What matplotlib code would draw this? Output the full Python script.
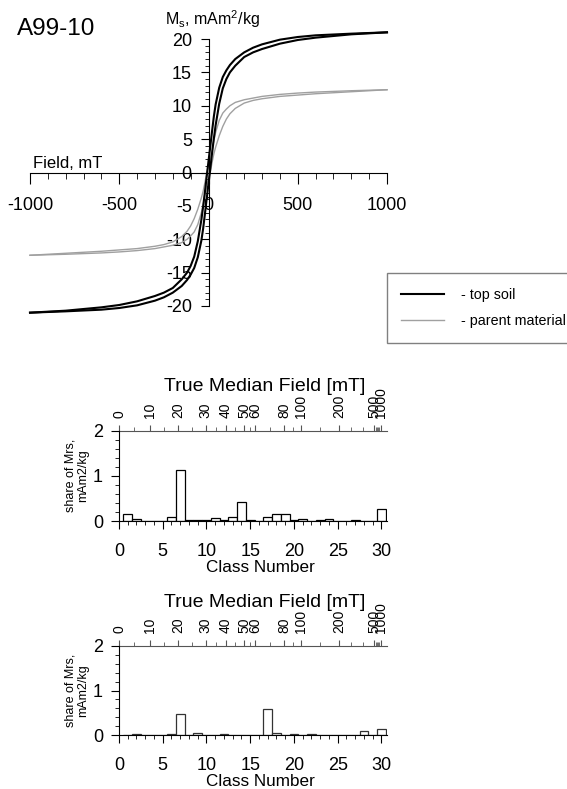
import matplotlib
matplotlib.use('Agg')
import matplotlib.pyplot as plt
import numpy as np
from matplotlib.ticker import MultipleLocator

plt.rcParams['font.family'] = ['Liberation Sans', 'DejaVu Sans']
plt.rcParams['mathtext.fontset'] = 'custom'
plt.rcParams['mathtext.rm'] = 'Liberation Sans'
plt.rcParams['mathtext.it'] = 'Liberation Sans:italic'
plt.rcParams['axes.unicode_minus'] = False

# hysteresis loops, field in mT, Ms in mAm2/kg
field = [-1000, -800, -600, -500, -400, -300, -250, -200, -150, -120, -100, -80, -60, -40, -30, -20, -10,
         0, 10, 20, 30, 40, 60, 80, 100, 120, 150, 200, 250, 300, 400, 500, 600, 800, 1000]
top_desc = [-21.0, -20.7, -20.2, -19.85, -19.3, -18.5, -18.0, -17.3, -16.0, -15.0, -14.0, -12.6, -10.3, -7.1, -5.1, -2.9, -0.6,
            1.7, 3.9, 6.2, 8.4, 10.2, 12.7, 14.3, 15.3, 16.1, 17.0, 18.0, 18.7, 19.2, 19.9, 20.3, 20.55, 20.8, 21.0]
top_asc = [-21.0, -20.8, -20.55, -20.3, -19.9, -19.2, -18.7, -18.0, -17.0, -16.1, -15.3, -14.3, -12.7, -10.2, -8.4, -6.2, -3.9,
           -1.7, 0.6, 2.9, 5.1, 7.1, 10.3, 12.6, 14.0, 15.0, 16.0, 17.3, 18.0, 18.5, 19.3, 19.85, 20.2, 20.7, 21.0]
par_desc = [-12.4, -12.1, -11.8, -11.6, -11.4, -11.05, -10.8, -10.4, -9.6, -8.8, -8.0, -6.9, -5.5, -3.8, -2.8, -1.5, 0.0,
            1.0, 2.0, 3.3, 4.8, 6.0, 7.8, 8.9, 9.5, 10.0, 10.5, 10.9, 11.15, 11.4, 11.7, 11.9, 12.05, 12.25, 12.4]
par_asc = [-12.4, -12.25, -12.05, -11.9, -11.7, -11.4, -11.15, -10.9, -10.5, -10.0, -9.5, -8.9, -7.8, -6.0, -4.8, -3.3, -2.0,
           -1.0, 0.0, 1.5, 2.8, 3.8, 5.5, 6.9, 8.0, 8.8, 9.6, 10.4, 10.8, 11.05, 11.4, 11.6, 11.8, 12.1, 12.4]

# IRM component shares per class
classes = np.arange(1, 31)
share1 = [0.15, 0.04, 0, 0, 0, 0.09, 1.13, 0.02, 0.02, 0.02, 0.06, 0.02, 0.09, 0.41, 0.02,
          0, 0.08, 0.15, 0.15, 0.02, 0.05, 0.01, 0.02, 0.05, 0.01, 0, 0.02, 0, 0, 0.27]
share2 = [0, 0.02, 0.01, 0, 0, 0.02, 0.47, 0, 0.04, 0, 0.01, 0.02, 0.01, 0, 0,
          0.01, 0.58, 0.04, 0, 0.02, 0.01, 0.02, 0, 0, 0.01, 0.01, 0.01, 0.09, 0, 0.13]

# true median field scale on top (mT -> class position)
tmf_labels = ['0', '10', '20', '30', '40', '50', '60', '80', '100', '200', '500', '1000']
tmf_fields = [0, 10, 20, 30, 40, 50, 60, 80, 100, 200, 500, 1000]
tmf_pos = [0, 3.5, 6.8, 9.9, 12.2, 14.3, 15.6, 18.9, 20.8, 25.2, 29.2, 29.9]
tmf_minor = [5, 15, 25, 35, 45, 55, 70, 90, 150, 300, 400, 600, 700, 800, 900]

W, H = 567, 789
fig = plt.figure(figsize=(W / 100, H / 100), dpi=100)

# ---- hysteresis plot
ax = fig.add_axes([30 / W, 1 - 306 / H, 357 / W, 267 / H])
l2, = ax.plot(field, par_desc, color='#a0a0a0', lw=1.0, clip_on=False)
ax.plot(field, par_asc, color='#a0a0a0', lw=1.0, clip_on=False)
l1, = ax.plot(field, top_desc, color='black', lw=1.5, clip_on=False)
ax.plot(field, top_asc, color='black', lw=1.5, clip_on=False)
ax.set_xlim(-1000, 1000)
ax.set_ylim(-20, 20)
ax.spines['left'].set_position(('data', 0))
ax.spines['bottom'].set_position(('data', 0))
ax.spines['top'].set_visible(False)
ax.spines['right'].set_visible(False)
ax.set_xticks([-1000, -500, 0, 500, 1000])
ax.xaxis.set_minor_locator(MultipleLocator(100))
ax.set_yticks(range(-20, 21, 5))
ax.yaxis.set_minor_locator(MultipleLocator(1))
ax.tick_params(axis='x', which='major', direction='out', length=8, labelsize=13, pad=10)
ax.tick_params(axis='x', which='minor', direction='out', length=4)
ax.tick_params(axis='y', which='major', direction='out', length=6, labelsize=13, pad=6)
ax.tick_params(axis='y', which='minor', direction='out', length=3)
ax.patch.set_alpha(0)

fig.text(17 / W, 1 - 35 / H, 'A99-10', fontsize=17.5, va='baseline')
fig.text(165 / W, 1 - 25 / H, r'M$_\mathrm{s}$, mAm$^\mathrm{2}$/kg', fontsize=11.5, va='baseline')
fig.text(33 / W, 1 - 168 / H, 'Field, mT', fontsize=12, va='baseline')

leg = ax.legend([l1, l2], ['- top soil', '- parent material'], loc='upper left',
                bbox_to_anchor=(386.7 / W, 1 - 273.3 / H), bbox_transform=fig.transFigure,
                borderaxespad=0, fontsize=10.3, handlelength=3.0, handletextpad=1.2,
                borderpad=1.0, labelspacing=0.9, fancybox=False, framealpha=1)
leg.get_frame().set_edgecolor('#808080')
leg.get_frame().set_linewidth(1.0)


# ---- bar charts
def bar_panel(top_px, bottom_px, values, edgecol):
    axb = fig.add_axes([119 / W, 1 - bottom_px / H, 267.7 / W, (bottom_px - top_px) / H])
    axb.bar(classes, values, width=1.0, facecolor='white', edgecolor=edgecol, linewidth=0.9)
    axb.set_xlim(0, 30.6)
    axb.set_ylim(0, 2)
    axb.spines['right'].set_visible(False)
    axb.spines['top'].set_visible(False)
    axb.set_xticks(range(0, 31, 5))
    axb.xaxis.set_minor_locator(MultipleLocator(1))
    axb.set_yticks([0, 1, 2])
    axb.yaxis.set_minor_locator(MultipleLocator(0.2))
    axb.tick_params(axis='x', which='major', direction='out', length=6, labelsize=13, pad=9.5)
    axb.tick_params(axis='x', which='minor', direction='out', length=3)
    axb.tick_params(axis='y', which='major', direction='out', length=6, labelsize=13, pad=5.5)
    axb.tick_params(axis='y', which='minor', direction='out', length=3)
    axb.set_xlabel('Class Number', fontsize=12.3, labelpad=0, x=0.527)
    axb.set_ylabel('share of Mrs,\nmAm2/kg', fontsize=9, labelpad=3, linespacing=1.0)

    sec = axb.secondary_xaxis('top')
    sec.set_xticks(tmf_pos, labels=tmf_labels, rotation=90)
    sec.set_xticks(np.interp(tmf_minor, tmf_fields, tmf_pos), minor=True)
    sec.tick_params(which='major', direction='out', length=4, labelsize=10, pad=5, color='#555555')
    sec.tick_params(which='minor', direction='out', length=3, color='#555555')
    sec.spines['top'].set_color('#555555')
    sec.set_xlabel('True Median Field [mT]', fontsize=14, labelpad=-3, x=0.545)
    return axb


bar_panel(430.7, 521, share1, 'black')
bar_panel(646, 735, share2, '#333333')

fig.savefig('out.png', dpi=100)
